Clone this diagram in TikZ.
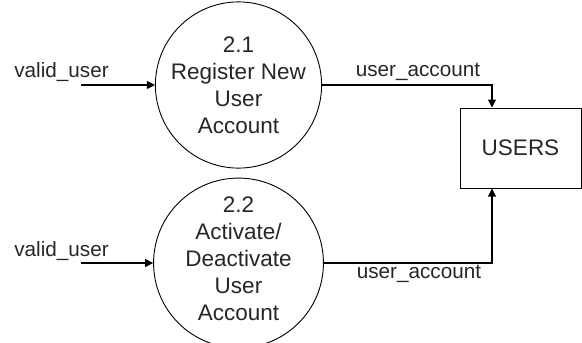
\documentclass[tikz,border=0pt]{standalone}
\usepackage{fontspec}
\setmainfont{Liberation Sans}
\usetikzlibrary{arrows.meta}

\begin{document}
\begin{tikzpicture}[x=1pt,y=-1pt]
\useasboundingbox (0,0) rectangle (582,343);
\begin{scope}
	\tikzstyle{every node}=[align=center, text=black!85]
	\tikzstyle{process}=[draw, circle, minimum size=156pt, inner sep=0pt, line width=0.9pt, font=\fontsize{22.5}{27}\selectfont]
	\tikzstyle{store}=[draw, rectangle, minimum width=121pt, minimum height=80pt, line width=1pt, font=\fontsize{22.5}{27}\selectfont]
	\tikzstyle{flow}=[font=\fontsize{20.7}{24}\selectfont, inner sep=0pt]
	\node[process] (p1) at (238.5,85) {2.1\\Register New\\User\\Account};
	\node[process, text depth=9pt] (p2) at (238.5,263) {2.2\\Activate/\\Deactivate\\User\\Account};
	\node[store] (users) at (520.5,148) {USERS};
	\coordinate (v1) at (81,85);
	\coordinate (v2) at (81,263);
	\node[flow, anchor=base] (l1) at (61.5,77.5) {valid\_user};
	\node[flow, anchor=base] (l2) at (61.5,256.5) {valid\_user};
	\node[flow, anchor=base] (l3) at (418,76) {user\_account};
	\node[flow, anchor=base] (l4) at (419,278) {user\_account};
	
	\draw [line width=1.1pt][-{Triangle[length=8pt,width=8pt]}] (v1) -- (p1);
	\draw [line width=1.1pt][-{Triangle[length=8pt,width=8pt]}] (v2) -- (p2);
	\draw [line width=1.1pt][-{Triangle[length=8pt,width=8pt]}] (p1.east) -| ([xshift=-28.5pt]users.north);
	\draw [line width=1.1pt][-{Triangle[length=8pt,width=8pt]}] (p2.east) -| ([xshift=-28.5pt]users.south);
	\end{scope}
\end{tikzpicture}
\end{document}
